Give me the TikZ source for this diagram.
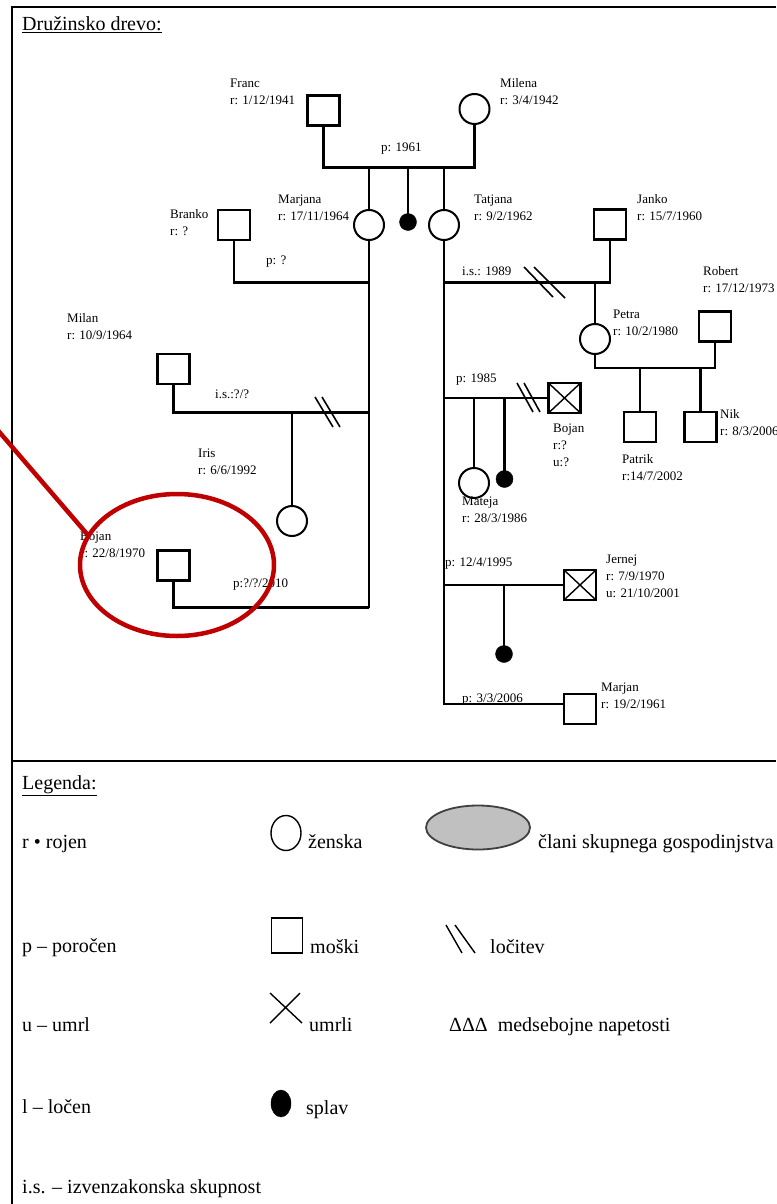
\documentclass[tikz,border=0pt]{standalone}
\usepackage{fontspec}
\setmainfont{Liberation Serif}
\usetikzlibrary{shapes.geometric}
\definecolor{hl}{RGB}{192,0,0}
\definecolor{hhgrey}{RGB}{192,192,192}
\newcommand\twol[2]{\begin{tabular}[t]{@{}l@{}}#1\\#2\end{tabular}}
\newcommand\threel[3]{\begin{tabular}[t]{@{}l@{}}#1\\#2\\#3\end{tabular}}
\tikzset{
  tree/.style={line width=2.4pt},
  divmark/.style={line width=1.6pt},
  male/.style={draw, rectangle, line width=2.4pt, minimum width=32pt, minimum height=30pt, inner sep=0pt, outer sep=0pt, fill=white},
  female/.style={draw, circle, line width=2pt, minimum size=30pt, inner sep=0pt, outer sep=0pt, fill=white},
  lost/.style={draw, circle, fill=black, minimum size=17pt, inner sep=0pt, outer sep=0pt},
  lbl/.style={anchor=base west, inner sep=0pt, font=\fontsize{13}{17}\selectfont},
  leg/.style={anchor=base west, inner sep=0pt, font=\fontsize{20}{24}\selectfont},
  frame/.style={line width=1.8pt},
}
\begin{document}
\begin{tikzpicture}[x=1pt,y=-1pt]
\useasboundingbox (0,0) rectangle (776,1204);
\fill[white] (0,0) rectangle (776,1204);
% frame
\draw[frame] (776,7) -- (12,7) -- (12,1204);
\draw[line width=2.4pt] (12,761) -- (776,761);
\node[leg] (title) at (22,31) {\underline{Družinsko drevo:}};

% ---- persons ----
\node[male] (franc) at (323.5,110.5) {};
\node[female] (milena) at (474.5,109) {};
\node[female] (marjana) at (369,225) {};
\node[lost] (mis1) at (408,222) {};
\node[female] (tatjana) at (444,225) {};
\node[male] (branko) at (234,225) {};
\node[male] (milan) at (173.5,369) {};
\node[female] (iris) at (292,521) {};
\node[male] (bojanl) at (173.5,565.5) {};
\node[male] (janko) at (610,224.5) {};
\node[female] (petra) at (595,339) {};
\node[male] (robert) at (715,326.5) {};
\node[male] (patrik) at (640,427) {};
\node[male] (nik) at (700.5,427) {};
\node[male] (bojanr) at (564.5,398) {};
\node[female] (mateja) at (474,483) {};
\node[lost] (mis2) at (504.5,479) {};
\node[male] (jernej) at (580,585) {};
\node[lost] (mis3) at (504,654) {};
\node[male] (marjan) at (580,709) {};

\draw[line width=1.4pt] (bojanr.north west) -- (bojanr.south east) (bojanr.north east) -- (bojanr.south west);
\draw[line width=1.4pt] (jernej.north west) -- (jernej.south east) (jernej.north east) -- (jernej.south west);

% ---- connectors ----
\coordinate (pl) at (323.5,167.5);
\coordinate (pr) at (474.5,167.5);
\draw[tree] (franc.south) -- (pl) -- (pr) -- (milena.south);
\draw[tree] (marjana.north) -- (marjana.north |- pl);
\draw[tree] (mis1.north) -- (mis1.north |- pl);
\draw[tree] (tatjana.north) -- (tatjana.north |- pl);

\coordinate (bm) at (369,282.5);
\coordinate (mm) at (369,412.5);
\coordinate (mjend) at (369,607.5);
\draw[tree] (marjana.south) -- (mjend);
\draw[tree] (branko.south) |- (bm);
\draw[tree] (milan.south) |- (mm);
\draw[tree] (iris.north) -- (iris.north |- mm);
\draw[tree] (bojanl.south) |- (mjend);

\coordinate (jt) at (444,282.5);
\coordinate (tjend) at (444,704);
\draw[tree] (tatjana.south) -- (tjend) -- (marjan.west |- tjend);
\draw[tree] (janko.south) |- (jt);
\draw[tree] (petra.north) -- (petra.north |- jt);
\coordinate (prj) at (715,368);
\draw[tree] (petra.south) -- (petra.south |- prj) -- (prj) -- (robert.south);
\draw[tree] (patrik.north) -- (patrik.north |- prj);
\draw[tree] (nik.north) -- (nik.north |- prj);
\draw[tree] (bojanr.west) -- (bojanr.west -| tatjana.south);
\draw[tree] (mateja.north) -- (mateja.north |- bojanr.west);
\draw[tree] (mis2.north) -- (mis2.north |- bojanr.west);
\draw[tree] (jernej.west) -- (jernej.west -| tatjana.south);
\draw[tree] (mis3.north) -- (mis3.north |- jernej.west);

% divorce marks
\draw[divmark] (315,397) -- (333,427) (322,397) -- (340,427);
\draw[divmark] (524,267) -- (553,297) (534,267) -- (565,298);
\draw[divmark] (517,383) -- (533,412) (524,383) -- (540,412);

% ---- labels ----
\node[lbl] (lfranc) at (230,88) {\twol{Franc}{r: 1/12/1941}};
\node[lbl] (lmilena) at (500,88) {\twol{Milena}{r: 3/4/1942}};
\node[lbl] (lp1961) at (381,151) {p: 1961};
\node[lbl] (lmarjana) at (278,203) {\twol{Marjana}{r: 17/11/1964}};
\node[lbl] (ltatjana) at (474,203) {\twol{Tatjana}{r: 9/2/1962}};
\node[lbl] (ljanko) at (637,203) {\twol{Janko}{r: 15/7/1960}};
\node[lbl] (lbranko) at (170,218) {\twol{Branko}{r: ?}};
\node[lbl] (lpq) at (266,264) {p: ?};
\node[lbl] (lis1989) at (462,275) {i.s.: 1989};
\node[lbl] (lrobert) at (703,275) {\twol{Robert}{r: 17/12/1973}};
\node[lbl] (lpetra) at (613,318) {\twol{Petra}{r: 10/2/1980}};
\node[lbl] (lmilan) at (67,322) {\twol{Milan}{r: 10/9/1964}};
\node[lbl] (lisq) at (215,398) {i.s.:?/?};
\node[lbl] (lp1985) at (456,382) {p: 1985};
\node[lbl] (lbojanr) at (553,432) {\threel{Bojan}{r:?}{u:?}};
\node[lbl] (lnik) at (720,418) {\twol{Nik}{r: 8/3/2006}};
\node[lbl] (lpatrik) at (622,463) {\twol{Patrik}{r:14/7/2002}};
\node[lbl] (liris) at (198,457) {\twol{Iris}{r: 6/6/1992}};
\node[lbl] (lmateja) at (462,505) {\twol{Mateja}{r: 28/3/1986}};
\node[lbl] (lbojanl) at (80,540) {\twol{Bojan}{r: 22/8/1970}};
\node[lbl] (lp2010) at (233,587) {p:?/?/2010};
\node[lbl] (lp1995) at (445,566) {p: 12/4/1995};
\node[lbl] (ljernej) at (606,563) {\threel{Jernej}{r: 7/9/1970}{u: 21/10/2001}};
\node[lbl] (lp2006) at (462,702) {p: 3/3/2006};
\node[lbl] (lmarjan) at (601,691) {\twol{Marjan}{r: 19/2/1961}};

% ---- legend ----
\node[leg] (lgtitle) at (22,789) {\underline{Legenda:}};
\node[leg] (lgr) at (22,848) {r • rojen};
\node[draw, ellipse, line width=1.4pt, minimum width=30pt, minimum height=35pt, inner sep=0pt] (lgfem) at (286,833) {};
\node[leg] (lgfemt) at (308,848) {ženska};
\node[draw=black!75, fill=hhgrey, ellipse, line width=1.8pt, minimum width=104pt, minimum height=44pt, inner sep=0pt] (lghh) at (478,827.5) {};
\node[leg] (lghht) at (538,848) {člani skupnega gospodinjstva};

\node[leg] (lgp) at (22,952) {p – poročen};
\node[draw, rectangle, line width=1.8pt, minimum width=31pt, minimum height=35pt, inner sep=0pt] (lgmale) at (287,935.5) {};
\node[leg] (lgmalet) at (310,953) {moški};
\draw[line width=1.4pt] (446,925) -- (462,953) (455,925) -- (475,953);
\node[leg] (lgdiv) at (490,953) {ločitev};

\node[leg] (lgu) at (22,1031) {u – umrl};
\draw[line width=1.4pt] (270,993) -- (302,1023) (300,993) -- (270,1023);
\node[leg] (lgdead) at (309,1031) {umrli};
\node[leg] (lgtens) at (449,1031) {ΔΔΔ\ \ medsebojne napetosti};

\node[leg] (lgl) at (22,1113) {l – ločen};
\node[draw, fill=black, ellipse, minimum width=20pt, minimum height=27pt, inner sep=0pt] (lgsplav) at (281,1103.5) {};
\node[leg] (lgsplavt) at (306,1114) {splav};

\node[leg] (lgis) at (22,1193) {i.s. – izvenzakonska skupnost};

% ---- red highlight ----
\node[draw=hl, ellipse, line width=4.5pt, minimum width=194pt, minimum height=142pt, inner sep=0pt] (focus) at (177,565) {};
\coordinate (ptr) at (-5,427);
\draw[hl, line width=4.5pt] (ptr) -- (focus.161);
\end{tikzpicture}
\end{document}
